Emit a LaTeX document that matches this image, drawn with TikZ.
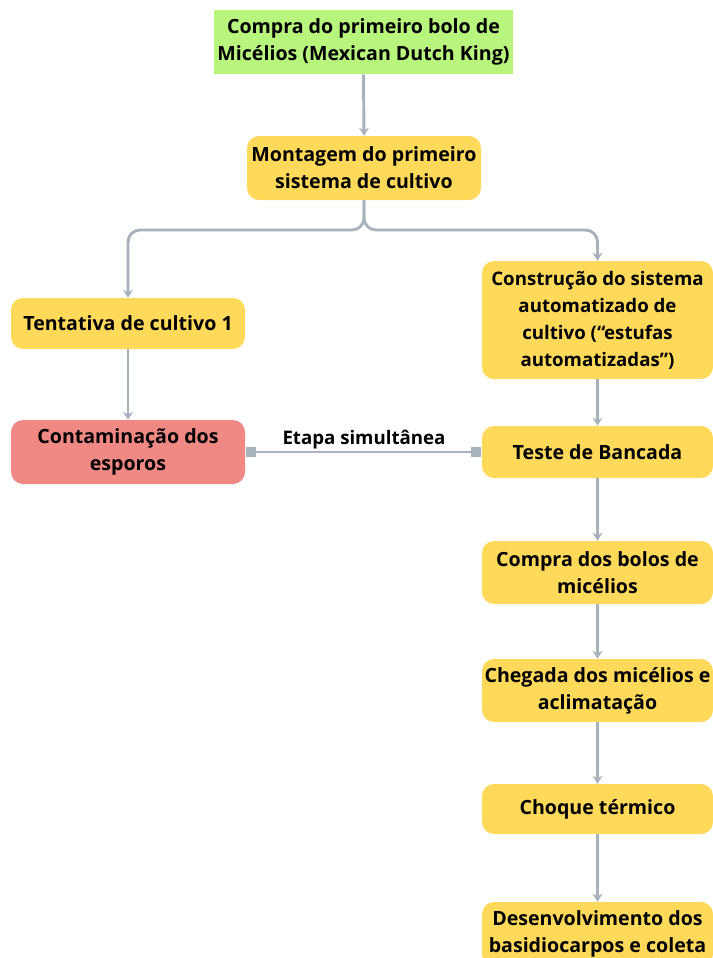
\documentclass[tikz,border=0pt]{standalone}
\usepackage{fontspec}
\setmainfont{Open Sans}
\usetikzlibrary{arrows.meta}
\definecolor{ylw}{HTML}{FFD95A}
\definecolor{grn}{HTML}{B8F57D}
\definecolor{rd}{HTML}{F08884}
\definecolor{ln}{HTML}{A7B2BD}
\begin{document}
\begin{tikzpicture}[x=0.75pt,y=-0.75pt,
  box/.style={rounded corners=9pt, fill=ylw, align=center, inner sep=0pt,
    font=\bfseries\fontsize{14.7}{20.25}\selectfont, text=black},
  conn/.style={draw=ln, line width=2.2pt, -{Stealth[length=6pt,width=7.5pt,inset=2pt]}},
  sq/.style={fill=ln, minimum size=8pt, inner sep=0pt}]
\useasboundingbox (0,0) rectangle (713,958);
\node[box, fill=grn, rounded corners=0pt, minimum width=224.25pt, minimum height=48pt] (n1) at (363.5,42) {Compra do primeiro bolo de\\Micélios (Mexican Dutch King)};
\node[box, minimum width=175.5pt, minimum height=48pt] (n2) at (364,168) {Montagem do primeiro\\sistema de cultivo};
\node[box, minimum width=175.5pt, minimum height=38.25pt] (n3) at (128,323.5) {Tentativa de cultivo 1};
\node[box, fill=rd, minimum width=175.5pt, minimum height=48pt] (n4) at (128,452) {Contaminação dos\\esporos};
\node[box, minimum width=173.25pt, minimum height=88.5pt, font=\bfseries\fontsize{14}{20.25}\selectfont] (n5) at (597.5,320) {Construção do sistema\\automatizado de\\cultivo (“estufas\\automatizadas”)};
\node[box, minimum width=173.25pt, minimum height=39pt] (n6) at (597.5,452) {Teste de Bancada};
\node[box, minimum width=173.25pt, minimum height=47.25pt] (n7) at (597.5,572.5) {Compra dos bolos de\\micélios};
\node[box, minimum width=173.25pt, minimum height=47.25pt] (n8) at (597.5,690.5) {Chegada dos micélios e\\aclimatação};
\node[box, minimum width=173.25pt, minimum height=37.5pt] (n9) at (597.5,809) {Choque térmico};
\node[box, minimum width=173.25pt, minimum height=48pt] (n10) at (597.5,934) {Desenvolvimento dos\\basidiocarpos e coleta};
% connectors
\draw[conn] (n1.south) -- (n2.north);
\draw[conn, rounded corners=9pt] (n2.south) -- (364,230) -- (128,230) -- (n3.north);
\draw[conn, rounded corners=9pt] (n2.south) -- (364,230) -- (597.5,230) -- (n5.north);
\draw[conn] (n3.south) -- (n4.north);
\draw[conn] (n5.south) -- (n6.north);
\draw[conn] (n6.south) -- (n7.north);
\draw[conn] (n7.south) -- (n8.north);
\draw[conn] (n8.south) -- (n9.north);
\draw[conn] (n9.south) -- (n10.north);
% simultaneous link
\node[sq, anchor=west] (s1) at (n4.east) {};
\node[sq, anchor=east] (s2) at (n6.west) {};
\draw[ln, line width=2.2pt] (s1.center) -- (s2.center);
\node[font=\bfseries\fontsize{14}{16}\selectfont, inner sep=0pt] (lbl) at (364,440) {Etapa simultânea};
\end{tikzpicture}
\end{document}
